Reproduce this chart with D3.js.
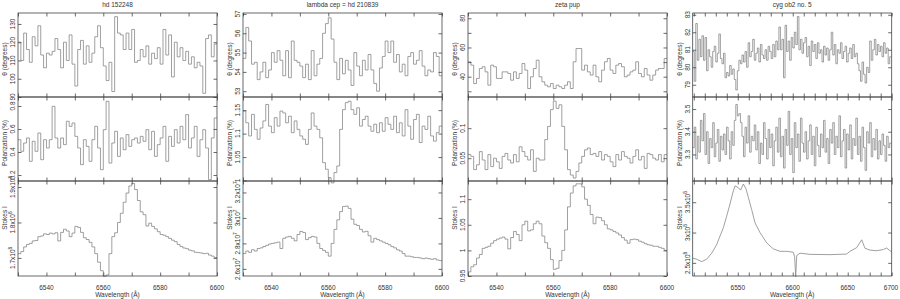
<!DOCTYPE html>
<html>
<head>
<meta charset="utf-8">
<script src="https://cdn.jsdelivr.net/npm/d3@7"></script>
<style>
  body { margin: 0; background: #fff; }
  text { font-family: "Liberation Sans", Arial, sans-serif; font-size: 6.5px; fill: #333; }
</style>
</head>
<body>
<svg id="chart" width="900" height="299"></svg>
<script>
// ---------- Data ----------
var titles = ['hd 152248', 'lambda cep = hd 210839', 'zeta pup', 'cyg ob2 no. 5'];

// columns 1-3: 1 A bins starting at 6530 A
var theta1 = [120,110,125,116,109,123,118,129,113,106,114,113,115,122,116,106,120,110,124,108,96,116,121,108,118,109,114,123,129,117,107,99,109,93,134,125,124,116,125,116,127,109,110,116,112,118,108,114,111,117,108,127,113,124,101,120,112,117,110,115,108,112,106,109,107,92,122,124,112,119];
var pol1 = [0.507,0.406,0.478,0.522,0.319,0.493,0.406,0.565,0.333,0.507,0.435,0.507,0.797,0.522,0.435,0.522,0.464,0.667,0.623,0.652,0.536,0.435,0.29,0.507,0.449,0.319,0.507,0.623,0.435,0.246,0.594,0.84,0.304,0.478,0.58,0.362,0.522,0.42,0.551,0.449,0.507,0.522,0.478,0.536,0.493,0.594,0.42,0.58,0.362,0.464,0.522,0.623,0.319,0.536,0.449,0.594,0.478,0.623,0.507,0.725,0.435,0.522,0.623,0.362,0.507,0.594,0.435,0.16,0.522,0.696];
var stokes1 = [1.712,1.718,1.731,1.738,1.741,1.748,1.749,1.760,1.762,1.768,1.766,1.770,1.768,1.771,1.748,1.772,1.781,1.776,1.760,1.770,1.789,1.786,1.772,1.757,1.752,1.744,1.731,1.712,1.688,1.664,1.648,1.652,1.712,1.760,1.771,1.800,1.826,1.857,1.883,1.903,1.910,1.893,1.862,1.830,1.822,1.790,1.798,1.789,1.782,1.774,1.766,1.764,1.760,1.755,1.750,1.746,1.738,1.732,1.728,1.726,1.722,1.720,1.716,1.715,1.714,1.712,1.713,1.708,1.705,1.701]; // x10^8

var theta2 = [54.7,56.3,55.6,54.4,54.5,53.6,54.0,54.5,53.7,54.1,55.0,54.5,55.1,54.6,53.8,55.1,53.7,55.6,54.6,54.5,54.3,53.7,54.4,53.6,55.1,53.8,54.4,54.7,56.0,56.5,56.8,55.7,54.5,53.6,54.7,53.9,54.6,54.1,53.3,55.0,54.3,53.8,54.6,54.1,54.9,54.1,53.4,53.0,54.2,54.8,55.6,55.0,55.6,54.5,54.9,54.0,54.4,53.8,54.8,55.0,54.4,54.6,55.1,54.3,53.8,54.1,54.0,55.0,54.8,53.8];
var pol2 = [1.148,1.123,1.095,1.141,1.109,1.088,1.112,1.127,1.162,1.116,1.102,1.134,1.116,1.148,1.144,1.123,1.137,1.102,1.127,1.109,1.095,1.088,1.077,1.109,1.144,1.116,1.109,1.091,1.038,1.024,1.006,0.995,1.017,1.031,1.109,1.151,1.166,1.169,1.151,1.141,1.155,1.116,1.130,1.137,1.116,1.105,1.120,1.102,1.123,1.105,1.134,1.120,1.109,1.137,1.102,1.123,1.095,1.151,1.116,1.088,1.130,1.141,1.081,1.116,1.109,1.137,1.095,1.084,1.102,1.116];
var stokes2 = [2.72,2.74,2.73,2.75,2.74,2.76,2.765,2.775,2.785,2.795,2.80,2.805,2.81,2.76,2.84,2.85,2.855,2.84,2.82,2.87,2.894,2.885,2.83,2.845,2.855,2.85,2.80,2.76,2.745,2.73,2.70,2.80,2.91,2.985,3.05,3.09,3.093,3.075,2.99,2.95,2.94,2.91,2.89,2.895,2.86,2.81,2.84,2.83,2.82,2.81,2.80,2.79,2.775,2.765,2.75,2.74,2.72,2.70,2.70,2.695,2.69,2.69,2.685,2.68,2.685,2.68,2.675,2.68,2.67,2.665]; // x10^7

var theta3 = [50.2,47.9,35.3,38.8,45.6,46.8,43.3,34.2,47.9,46.8,38.8,38.8,43.3,43.3,42.2,37.6,43.3,38.8,42.2,49.0,44.5,31.9,39.9,45.6,51.3,39.9,36.5,34.2,33.1,35.3,31.9,34.2,33.1,31.9,34.2,36.5,31.9,50.2,59.3,59.3,44.5,47.9,43.3,41.1,47.9,39.9,36.5,44.5,50.2,52.5,44.5,42.2,47.9,49.0,46.8,39.9,41.1,43.3,44.5,50.2,42.2,39.9,45.6,41.1,37.6,41.1,44.5,45.6,45.6,52.5];
var pol3 = [0.056,0.053,0.031,0.039,0.061,0.047,0.031,0.056,0.036,0.050,0.044,0.033,0.053,0.058,0.047,0.042,0.056,0.044,0.069,0.061,0.053,0.047,0.064,0.028,0.050,0.047,0.047,0.081,0.103,0.131,0.145,0.133,0.139,0.103,0.064,0.031,0.022,0.017,0.028,0.042,0.053,0.064,0.067,0.056,0.058,0.053,0.061,0.047,0.056,0.053,0.044,0.036,0.056,0.047,0.061,0.053,0.050,0.042,0.053,0.064,0.047,0.053,0.033,0.058,0.056,0.050,0.047,0.056,0.044,0.056];
var stokes3 = [0.958,0.968,0.972,0.985,0.992,1.004,1.006,1.008,1.014,1.019,1.022,1.024,1.026,1.022,1.003,1.025,1.037,1.031,1.019,1.050,1.057,1.038,1.040,1.052,1.057,1.052,1.028,1.015,1.004,0.982,0.963,0.965,0.980,1.000,1.040,1.085,1.112,1.126,1.130,1.130,1.124,1.100,1.088,1.070,1.052,1.065,1.064,1.058,1.050,1.042,1.040,1.037,1.034,1.030,1.025,1.020,1.014,1.021,1.022,1.021,1.018,1.016,1.013,1.011,1.010,1.008,1.008,1.006,1.004,1.000];

// column 4: 1.4 A bins starting at 6509 A
var theta4 = [80.9,79.2,82.5,80.4,81.6,80.6,81.8,80.4,
  81.7,79.8,81.0,80.6,80.0,80.9,81.2,80.3,80.8,81.9,80.5,80.2,80.8,
  79.4,79.7,79.5,80.1,79.6,79.9,79.3,78.7,79.8,80.4,80.2,
  80.7,80.3,80.9,80.0,81.4,80.6,80.9,81.6,80.4,80.8,81.1,80.3,81.3,80.7,80.5,81.0,80.4,81.2,80.9,80.5,81.3,80.6,81.5,81.0,
  82.3,81.0,81.6,79.4,82.4,80.9,81.5,80.4,81.7,81.1,82.0,81.3,82.9,81.0,81.6,80.8,81.4,
  81.7,80.6,81.2,80.1,81.5,80.9,81.3,80.5,81.4,80.8,81.0,80.3,81.2,80.7,81.1,80.4,81.0,
  82.0,80.7,81.3,80.2,81.0,80.8,81.4,80.5,80.9,81.2,80.3,80.8,81.1,80.5,81.3,80.6,80.8,80.2,
  79.8,79.2,80.3,79.6,79.1,80.0,79.7,81.5,80.4,81.0,
  81.6,80.7,81.3,80.9,81.2,80.6,81.4,80.8,81.1,80.2,80.6];
var pol4 = [3.33,3.42,3.28,3.38,3.31,3.45,3.36,3.48,
  3.30,3.40,3.26,3.37,3.33,3.44,3.29,3.35,3.41,3.27,3.38,3.32,3.39,
  3.30,3.42,3.36,3.28,3.40,3.34,3.45,3.52,3.47,3.48,3.44,
  3.38,3.29,3.42,3.35,3.47,3.31,3.38,3.36,3.43,3.32,3.40,3.26,3.35,3.30,3.44,3.37,3.28,3.41,3.33,3.39,3.25,3.36,3.42,3.31,
  3.46,3.29,3.38,3.24,3.41,3.34,3.49,3.30,3.37,3.22,3.44,3.33,3.39,3.27,3.46,3.35,3.31,
  3.40,3.28,3.36,3.43,3.30,3.38,3.25,3.42,3.34,3.29,3.39,3.33,3.45,3.31,3.37,3.26,3.41,
  3.35,3.44,3.30,3.38,3.33,3.47,3.29,3.36,3.41,3.24,3.39,3.32,3.43,3.28,3.37,3.34,3.46,3.30,
  3.38,3.27,3.42,3.33,3.23,3.40,3.35,3.44,3.29,3.37,
  3.32,3.41,3.28,3.36,3.30,3.39,3.34,3.27,3.38,3.33,3.35];
var stokes4Wave = [6509.0,6512.6,6517.2,6521.7,6526.3,6530.8,6533.8,6536.9,6539.9,6542.9,6546.0,6547.5,6550.5,6552.6,6555.1,6557.5,6559.6,6562.6,6565.7,6570.2,6576.3,6582.3,6588.4,6594.5,6600.5,6601.7,6602.7,6603.6,6606.6,6615.7,6633.9,6649.0,6652.1,6658.1,6662.7,6665.7,6670.3,6676.3,6682.4,6685.4,6688.5,6690.0];
var stokes4 = [2.578,2.56,2.52,2.56,2.66,2.80,2.94,3.08,3.27,3.47,3.69,3.77,3.74,3.70,3.80,3.72,3.58,3.38,3.16,3.00,2.83,2.73,2.69,2.69,2.675,2.60,2.27,2.62,2.66,2.64,2.635,2.645,2.69,2.75,2.88,2.74,2.71,2.70,2.72,2.745,2.70,2.68]; // x10^8

// axis ticks
var xTicks13 = [6530,6540,6550,6560,6570,6580,6590,6600];
var xLabels13 = [6540,6560,6580,6600];
var xTicks4 = [6510,6520,6530,6540,6550,6560,6570,6580,6590,6600,6610,6620,6630,6640,6650,6660,6670,6680,6690];
var xLabels4 = [6550,6600,6650,6700];

// ---------- Layout ----------
var svg = d3.select('#chart');
var boxW = 199;
var colLeft = [18, 243, 468, 692.7];
var rows = [[13, 97], [97, 181], [181, 276]];
var yTitleCenter = [59, 143, 218];
var lineColor = '#808080';
var axisColor = '#444';

function binEdges(start, step, n) {
  return d3.range(n + 1).map(function (i) { return start + i * step; });
}
function stepPoints(edges, vals) {
  var pts = vals.map(function (v, i) { return [edges[i], v]; });
  pts.push([edges[vals.length], vals[vals.length - 1]]);
  return pts;
}
function linePoints(xs, vals) {
  return vals.map(function (v, i) { return [xs[i], v]; });
}

var edges13 = binEdges(6530, 1, 70);
var edges4 = binEdges(6509, 1.4, theta4.length);

var columns = [
  { title: titles[0], xDomain: [6530, 6600], xTicks: xTicks13, xLabels: xLabels13, panels: [
    { data: stepPoints(edges13, theta1), yDomain: [90, 136], yTicks: [90,100,110,120,130], yLabels: ['90','100','110','120','130'], curve: d3.curveStepAfter },
    { data: stepPoints(edges13, pol1), yDomain: [0.148, 0.878], yTicks: [0.2,0.4,0.6,0.8], yLabels: ['0.2','0.4','0.6','0.8'], curve: d3.curveStepAfter },
    { data: stepPoints(edges13, stokes1), yDomain: [1.649, 1.917], yTicks: [1.7,1.8,1.9], yLabels: ['1.7','1.8','1.9'], exp: '8', curve: d3.curveStepAfter }
  ]},
  { title: titles[1], xDomain: [6530, 6600], xTicks: xTicks13, xLabels: xLabels13, panels: [
    { data: stepPoints(edges13, theta2), yDomain: [52.7, 57.05], yTicks: [53,54,55,56,57], yLabels: ['53','54','55','56','57'], curve: d3.curveStepAfter },
    { data: stepPoints(edges13, pol2), yDomain: [0.999, 1.178], yTicks: [1,1.05,1.1,1.15], yLabels: ['1','1.05','1.1','1.15'], curve: d3.curveStepAfter },
    { data: stepPoints(edges13, stokes2), yDomain: [2.544, 3.29], yTicks: [2.6,2.8,3,3.2], yLabels: ['2.6','2.8','3','3.2'], exp: '7', curve: d3.curveStepAfter }
  ]},
  { title: titles[2], xDomain: [6530, 6600], xTicks: xTicks13, xLabels: xLabels13, panels: [
    { data: stepPoints(edges13, theta3), yDomain: [26.1, 83.6], yTicks: [30,40,50,60,70,80], yLabels: ['','40','','60','','80'], curve: d3.curveStepAfter },
    { data: stepPoints(edges13, pol3), yDomain: [0.012, 0.152], yTicks: [0.05,0.1], yLabels: ['0.05','0.1'], curve: d3.curveStepAfter },
    { data: stepPoints(edges13, stokes3), yDomain: [0.95, 1.1355], yTicks: [0.95,1,1.05,1.1], yLabels: ['0.95','1','1.05','1.1'], curve: d3.curveStepAfter }
  ]},
  { title: titles[3], xDomain: [6509, 6690], xTicks: xTicks4, xLabels: xLabels4, panels: [
    { data: stepPoints(edges4, theta4), yDomain: [78.3, 83.1], yTicks: [79,80,81,82,83], yLabels: ['79','80','81','82','83'], curve: d3.curveStepAfter },
    { data: stepPoints(edges4, pol4), yDomain: [3.183, 3.553], yTicks: [3.3,3.4,3.5], yLabels: ['3.3','3.4','3.5'], curve: d3.curveStepAfter },
    { data: linePoints(stokes4Wave, stokes4), yDomain: [2.283, 3.85], yTicks: [2.5,3,3.5], yLabels: ['2.5','3','3.5'], exp: '8', curve: d3.curveLinear }
  ]}
];
var yTitles = ['\u03b8 (degrees)', 'Polarization (%)', 'Stokes I'];

function yTickLabel(g, cx, cy, p, i) {
  var t = g.append('text')
    .attr('transform', 'translate(' + cx + ',' + cy + ')rotate(-90)')
    .attr('text-anchor', 'middle')
    .attr('dominant-baseline', 'central');
  if (p.exp) {
    t.text(p.yLabels[i] + 'x10');
    t.append('tspan').attr('dy', -2.2).attr('font-size', '4.8px').text(p.exp);
  } else {
    t.text(p.yLabels[i]);
  }
}

columns.forEach(function (col, c) {
  var left = colLeft[c];
  var x = d3.scaleLinear().domain(col.xDomain).range([left, left + boxW]);

  // Title
  svg.append('text')
    .attr('x', left + boxW / 2)
    .attr('y', 4.5)
    .attr('text-anchor', 'middle')
    .attr('dominant-baseline', 'central')
    .text(col.title);

  col.panels.forEach(function (p, r) {
    var top = rows[r][0], bottom = rows[r][1];
    var y = d3.scaleLinear().domain(p.yDomain).range([bottom, top]);
    var g = svg.append('g');

    // data
    g.append('path')
      .datum(p.data)
      .attr('fill', 'none')
      .attr('stroke', lineColor)
      .attr('stroke-width', 0.75)
      .attr('d', d3.line()
        .x(function (d) { return x(d[0]); })
        .y(function (d) { return y(d[1]); })
        .curve(p.curve));

    // box
    g.append('rect')
      .attr('x', left).attr('y', top)
      .attr('width', boxW).attr('height', bottom - top)
      .attr('fill', 'none')
      .attr('stroke', axisColor)
      .attr('stroke-width', 0.8);

    // ticks on all four sides, pointing in
    var axes = [
      [d3.axisBottom(x).tickValues(col.xTicks), 'translate(0,' + bottom + ')'],
      [d3.axisTop(x).tickValues(col.xTicks), 'translate(0,' + top + ')'],
      [d3.axisLeft(y).tickValues(p.yTicks), 'translate(' + left + ',0)'],
      [d3.axisRight(y).tickValues(p.yTicks), 'translate(' + (left + boxW) + ',0)']
    ];
    axes.forEach(function (a) {
      var ax = g.append('g')
        .attr('transform', a[1])
        .call(a[0].tickSize(-3.5).tickSizeOuter(0).tickFormat(''));
      ax.select('.domain').remove();
      ax.selectAll('line').attr('stroke', axisColor).attr('stroke-width', 0.8);
    });

    // y tick labels
    p.yTicks.forEach(function (v, i) {
      if (p.yLabels[i] !== '') yTickLabel(g, left - 5.5, y(v), p, i);
    });

    // y title
    g.append('text')
      .attr('transform', 'translate(' + (left - 13.5) + ',' + yTitleCenter[r] + ')rotate(-90)')
      .attr('text-anchor', 'middle')
      .attr('dominant-baseline', 'central')
      .text(yTitles[r]);

    // x labels on the bottom row only (kept inside the page at the right edge)
    if (r === 2) {
      col.xLabels.forEach(function (v) {
        g.append('text')
          .attr('x', Math.min(x(v), 891))
          .attr('y', 287.3)
          .attr('text-anchor', 'middle')
          .attr('dominant-baseline', 'central')
          .text(v);
      });
      g.append('text')
        .attr('x', left + boxW / 2)
        .attr('y', 294.3)
        .attr('text-anchor', 'middle')
        .attr('dominant-baseline', 'central')
        .text('Wavelength (\u00c5)');
    }
  });
});
</script>
</body>
</html>
